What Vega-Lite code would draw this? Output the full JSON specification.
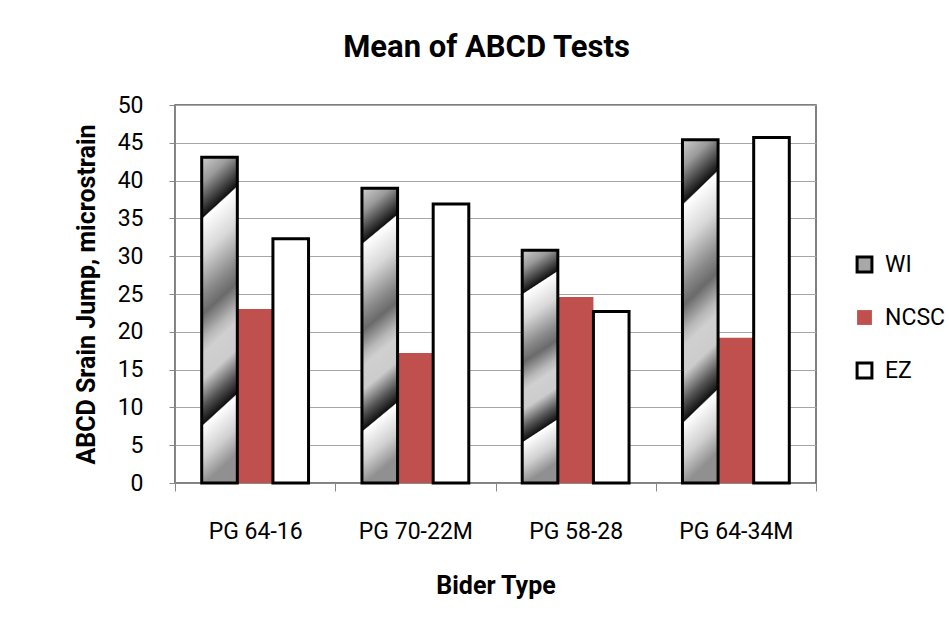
{
  "$schema": "https://vega.github.io/schema/vega-lite/v6.json",
  "width": 641,
  "height": 378,
  "autosize": {"type": "none"},
  "padding": {"left": 175, "top": 105, "right": 133, "bottom": 139},
  "background": "white",
  "title": {
    "text": "Mean of ABCD Tests",
    "font": "Roboto",
    "fontSize": 31,
    "fontWeight": "bold",
    "color": "black",
    "anchor": "middle",
    "dx": -9,
    "offset": 30
  },
  "data": {
    "values": [
      {"binder": "PG 64-16", "series": "NCSC", "value": 23.0},
      {"binder": "PG 70-22M", "series": "NCSC", "value": 17.2},
      {"binder": "PG 58-28", "series": "NCSC", "value": 24.6},
      {"binder": "PG 64-34M", "series": "NCSC", "value": 19.2},
      {"binder": "PG 64-16", "series": "WI", "value": 43.1},
      {"binder": "PG 70-22M", "series": "WI", "value": 39.0},
      {"binder": "PG 58-28", "series": "WI", "value": 30.8},
      {"binder": "PG 64-34M", "series": "WI", "value": 45.4},
      {"binder": "PG 64-16", "series": "EZ", "value": 32.3},
      {"binder": "PG 70-22M", "series": "EZ", "value": 36.9},
      {"binder": "PG 58-28", "series": "EZ", "value": 22.7},
      {"binder": "PG 64-34M", "series": "EZ", "value": 45.7}
    ]
  },
  "mark": {"type": "bar", "strokeWidth": 3},
  "encoding": {
    "x": {
      "field": "binder",
      "type": "nominal",
      "sort": ["PG 64-16", "PG 70-22M", "PG 58-28", "PG 64-34M"],
      "scale": {"paddingInner": 0, "paddingOuter": 0},
      "axis": {
        "title": "Bider Type",
        "titleFont": "Roboto",
        "titleFontSize": 25,
        "titleFontWeight": "bold",
        "titleColor": "black",
        "titlePadding": 30,
        "labelFont": "Roboto",
        "labelFontSize": 23,
        "labelColor": "black",
        "labelAngle": 0,
        "labelPadding": 29,
        "tickBand": "extent",
        "tickSize": 8,
        "tickColor": "#888888",
        "domainColor": "#888888",
        "grid": false
      }
    },
    "xOffset": {
      "field": "series",
      "sort": ["WI", "NCSC", "EZ"],
      "scale": {"paddingInner": 0, "paddingOuter": 0.75}
    },
    "y": {
      "field": "value",
      "type": "quantitative",
      "scale": {"domain": [0, 50], "nice": false},
      "axis": {
        "title": "ABCD Srain Jump, microstrain",
        "titleFont": "Roboto",
        "titleFontSize": 25,
        "titleFontWeight": "bold",
        "titleColor": "black",
        "titleX": -76,
        "titleY": 189,
        "titleBaseline": "bottom",
        "values": [0, 5, 10, 15, 20, 25, 30, 35, 40, 45, 50],
        "labelFont": "Roboto",
        "labelFontSize": 23,
        "labelColor": "black",
        "labelPadding": 26,
        "tickSize": 6,
        "tickColor": "#888888",
        "domainColor": "#888888",
        "gridColor": "#a6a6a6",
        "grid": true
      }
    },
    "fill": {
      "condition": {
        "test": "datum.series === 'WI'",
        "value": {
          "gradient": "linear",
          "x1": 0, "y1": 0, "x2": 0.1, "y2": 1,
          "stops": [
            {"offset": 0, "color": "#cfcfcf"},
            {"offset": 0.08, "color": "#9a9a9a"},
            {"offset": 0.185, "color": "#111111"},
            {"offset": 0.19, "color": "#ffffff"},
            {"offset": 0.3, "color": "#d8d8d8"},
            {"offset": 0.42, "color": "#8a8a8a"},
            {"offset": 0.48, "color": "#6a6a6a"},
            {"offset": 0.56, "color": "#b8b8b8"},
            {"offset": 0.6, "color": "#d0d0d0"},
            {"offset": 0.68, "color": "#cccccc"},
            {"offset": 0.76, "color": "#555555"},
            {"offset": 0.815, "color": "#111111"},
            {"offset": 0.82, "color": "#ffffff"},
            {"offset": 0.92, "color": "#d0d0d0"},
            {"offset": 1, "color": "#909090"}
          ]
        }
      },
      "field": "series",
      "type": "nominal",
      "scale": {
        "domain": ["WI", "NCSC", "EZ"],
        "range": ["#a8a8a8", "#C0504D", "#ffffff"]
      },
      "legend": {
        "orient": "none",
        "legendX": 678,
        "legendY": 148,
        "title": null,
        "padding": 0,
        "symbolType": "square",
        "symbolSize": 220,
        "symbolStrokeWidth": 3,
        "labelFont": "Roboto",
        "labelFontSize": 23,
        "labelColor": "black",
        "labelOffset": 9,
        "rowPadding": 26,
        "encode": {
          "symbols": {
            "update": {
              "fill": [
                {
                  "test": "datum.value === 'WI'",
                  "value": {
                    "gradient": "linear",
                    "x1": 0, "y1": 0, "x2": 1, "y2": 1,
                    "stops": [
                      {"offset": 0, "color": "#909090"},
                      {"offset": 0.45, "color": "#111111"},
                      {"offset": 0.5, "color": "#ffffff"},
                      {"offset": 1, "color": "#a0a0a0"}
                    ]
                  }
                },
                {"scale": "fill", "field": "value"}
              ]
            }
          }
        }
      }
    },
    "stroke": {
      "field": "series",
      "type": "nominal",
      "scale": {
        "domain": ["WI", "NCSC", "EZ"],
        "range": ["#000000", "transparent", "#000000"]
      }
    }
  },
  "config": {
    "view": {"stroke": "#555555", "strokeWidth": 1.5},
    "font": "Roboto"
  }
}
